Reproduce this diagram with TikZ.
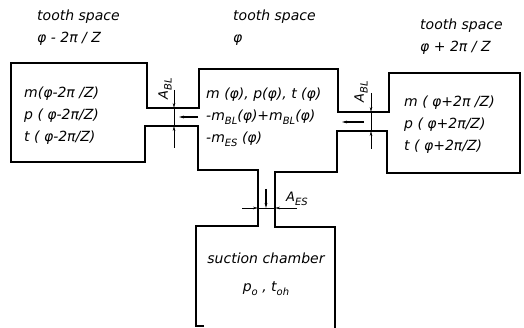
\documentclass[tikz,border=0pt]{standalone}
\usepackage{fontspec}
\setmainfont{DejaVu Sans}
\usepackage{tikz}
\usetikzlibrary{positioning, arrows.meta}
\newcommand{\lidx}[1]{\raisebox{-0.5ex}{\fontsize{10}{10}\selectfont #1}}

\begin{document}
\begin{tikzpicture}[
    x=1pt, y=-1pt,
    wall/.style={line width=1.4pt, line join=miter},
    dimline/.style={line width=0.8pt},
    dimarrow/.style={->, >={Stealth[length=5pt,width=2.6pt]}, line width=0.8pt},
    flowarrow/.style={->, >={Stealth[length=5pt,width=2.8pt]}, line width=1.1pt},
    txt/.style={font=\fontsize{14}{22}\selectfont\itshape, align=left, inner sep=0pt},
    idx/.style={font=\fontsize{13}{13}\selectfont\itshape, inner sep=0pt}
]
\useasboundingbox (0,0) rectangle (524,328);

% === walls of the three tooth spaces and the suction chamber ===
\draw[wall] (204,326) -- (196,326) -- (196,226) -- (258,226) -- (258,170)
    -- (198,170) -- (198,126) -- (145,126) -- (145,162) -- (11,162)
    -- (11,63) -- (147,63) -- (147,108) -- (199,108) -- (199,69)
    -- (338,69) -- (338,112) -- (389,112) -- (389,73) -- (520,73)
    -- (520,173) -- (387,173) -- (387,131) -- (337,131) -- (337,172)
    -- (275,172) -- (275,227) -- (335,227) -- (335,328);

% === headings ===
\node[txt, anchor=north west] (hprev) at (37,10) {tooth space\\φ - 2π / Z};
\node[txt, anchor=north west] (hcur) at (233,10) {tooth space\\φ};
\node[txt, anchor=north west] (hnext) at (420,19) {tooth space\\φ + 2π / Z};

% === states ===
\node[txt, anchor=west] (prev) at (24,116) {m(φ-2π /Z)\\p ( φ-2π/Z)\\t  ( φ-2π/Z)};
\node[txt, anchor=west] (cur) at (206,117) {m (φ), p(φ), t (φ)\\-m\lidx{BL}(φ)+m\lidx{BL}(φ)\\-m\lidx{ES} (φ)};
\node[txt, anchor=west] (next) at (404,125) {m ( φ+2π /Z)\\p  ( φ+2π/Z)\\t  ( φ+2π/Z)};
\node[txt, align=center, font=\fontsize{14}{28}\selectfont\itshape] (suct) at (266,274) {suction chamber\\p\lidx{o} , t\lidx{oh}};

% === gap prev/cur ===
\coordinate (lgt) at (174,108);
\coordinate (lgb) at (174,126);
\coordinate (lfs) at (198,117);
\draw[dimarrow] ([yshift=18pt]lgt) -- (lgt);
\draw[dimline] (lgt) -- (lgb);
\draw[dimarrow] ([yshift=-22pt]lgb) -- (lgb);
\draw[flowarrow] (lfs) -- ([xshift=-19pt]lfs);
\node[idx, rotate=90] (abl1) at (165,89) {A\lidx{BL}};

% === gap cur/next ===
\coordinate (rgt) at (371,112);
\coordinate (rgb) at (371,131);
\coordinate (rfs) at (364,122);
\draw[dimarrow] ([yshift=19pt]rgt) -- (rgt);
\draw[dimline] (rgt) -- (rgb);
\draw[dimarrow] ([yshift=-18pt]rgb) -- (rgb);
\draw[flowarrow] (rfs) -- ([xshift=-22pt]rfs);
\node[idx, rotate=90] (abl2) at (361,92) {A\lidx{BL}};

% === gap cur/suction ===
\coordinate (egl) at (258,208);
\coordinate (egr) at (275,208);
\coordinate (efs) at (266,189);
\draw[dimarrow] ([xshift=-16pt]egl) -- (egl);
\draw[dimline] (egl) -- (egr);
\draw[dimarrow] ([xshift=22pt]egr) -- (egr);
\draw[flowarrow] (efs) -- ([yshift=-19pt]efs);
\node[idx, anchor=west] (aes) at (286,199) {A\lidx{ES}};

\end{tikzpicture}
\end{document}
